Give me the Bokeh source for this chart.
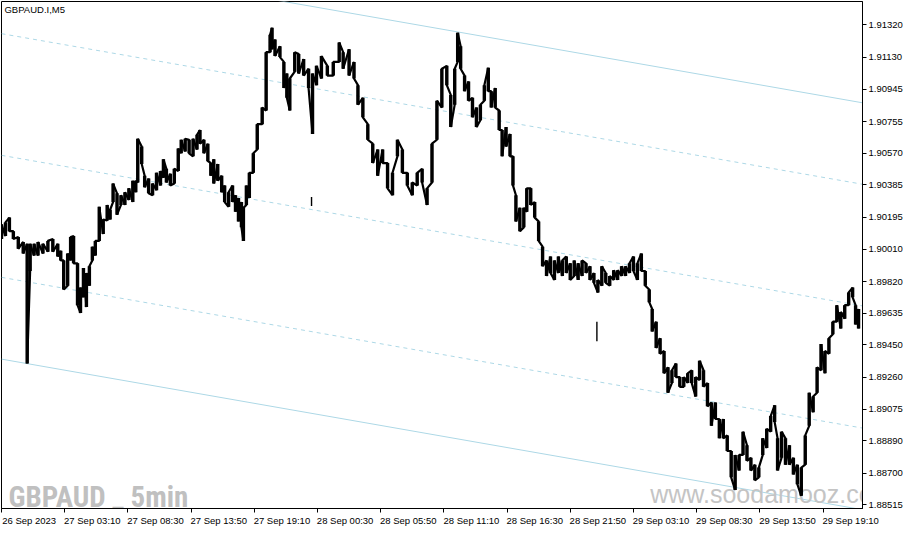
from bokeh.plotting import figure
from bokeh.models import Range1d, FixedTicker, PrintfTickFormatter, Label
from bokeh.embed import file_html
from bokeh.resources import INLINE
from bokeh.core.properties import value

symbol_title = "GBPAUD.I,M5"
watermark_text = "GBPAUD _ 5min"
site_text = "www.soodamooz.com"

# bar index (5-minute bars counted from the first visible bar)
bar = [0, 4, 8, 12, 17, 22, 26, 29, 33, 37,
       42, 47, 52, 57, 60, 63, 67, 70, 73, 77,
       80, 83, 86, 89, 92, 95, 99, 103, 107, 110,
       113, 117, 121, 125, 129, 133, 136, 138, 142, 145,
       149, 153, 157, 161, 164, 167, 171, 175, 179, 182,
       186, 190, 194, 198, 201, 205, 209, 212, 215, 219,
       223, 226, 230, 234, 237, 240, 243, 245, 248, 251,
       255, 259, 264, 268, 272, 274, 277, 282, 286, 289,
       292, 297, 301, 306, 311, 315, 319, 324, 330, 336,
       342, 346, 352, 357, 361, 366, 371, 376, 381, 386,
       391, 396, 401, 406, 411, 416, 421, 426, 431, 436,
       441, 446, 451, 455, 459, 462, 465, 469, 473, 477,
       481, 485, 489, 493, 496, 500, 504, 507, 511, 515,
       518, 521, 525, 529, 532, 536, 540, 544, 548, 552,
       556, 560, 564, 568, 572, 576, 580, 584, 588, 592,
       596, 600, 604, 608, 612, 616, 620, 624, 628, 632,
       636, 640, 644, 648, 652, 656, 659, 663, 667, 671,
       675, 679, 683, 687, 691, 695, 699, 703, 707, 711,
       715, 719, 723, 727, 731, 735, 739, 743, 747, 751,
       755, 759, 763, 767, 771, 775, 779, 783, 786, 790,
       794, 798, 802, 806, 810, 814, 818, 822, 826, 830,
       834, 838, 842, 846, 850, 854, 858, 862, 865, 868]

high = [1.90154, 1.90166, 1.90194, 1.90115, 1.90081, 1.90052, 1.90041, 1.90041, 1.90041, 1.90052,
        1.90041, 1.90058, 1.90069, 1.90041, 1.90001, 1.89944, 1.89984, 1.90081, 1.90086, 1.89927,
        1.89785, 1.89899, 1.89870, 1.89910, 1.90024, 1.90058, 1.90257, 1.90183, 1.90268, 1.90240,
        1.90393, 1.90336, 1.90325, 1.90342, 1.90365, 1.90410, 1.90410, 1.90655, 1.90609, 1.90439,
        1.90422, 1.90393, 1.90456, 1.90467, 1.90535, 1.90479, 1.90450, 1.90479, 1.90598, 1.90649,
        1.90655, 1.90649, 1.90655, 1.90678, 1.90706, 1.90649, 1.90626, 1.90513, 1.90535, 1.90507,
        1.90439, 1.90382, 1.90342, 1.90382, 1.90325, 1.90308, 1.90285, 1.90251, 1.90382, 1.90456,
        1.90570, 1.90740, 1.90837, 1.91161, 1.91263, 1.91303, 1.91235, 1.91195, 1.91104, 1.91036,
        1.91007, 1.91161, 1.91150, 1.91121, 1.91064, 1.91036, 1.91081, 1.91138, 1.91081, 1.91104,
        1.91218, 1.91161, 1.91178, 1.91104, 1.90968, 1.90894, 1.90740, 1.90626, 1.90592, 1.90592,
        1.90513, 1.90456, 1.90649, 1.90592, 1.90456, 1.90399, 1.90456, 1.90479, 1.90365, 1.90626,
        1.90877, 1.91064, 1.91081, 1.90911, 1.91064, 1.91275, 1.91195, 1.91024, 1.90990, 1.90894,
        1.90837, 1.90854, 1.90968, 1.91070, 1.90933, 1.90951, 1.90820, 1.90706, 1.90723, 1.90683,
        1.90552, 1.90325, 1.90251, 1.90251, 1.90365, 1.90365, 1.90285, 1.90172, 1.90024, 1.89944,
        1.89967, 1.89944, 1.89967, 1.89944, 1.89967, 1.89927, 1.89944, 1.89927, 1.89944, 1.89927,
        1.89910, 1.89870, 1.89830, 1.89910, 1.89870, 1.89853, 1.89887, 1.89887, 1.89910, 1.89910,
        1.89927, 1.89967, 1.89927, 1.89984, 1.89882, 1.89774, 1.89660, 1.89586, 1.89489, 1.89415,
        1.89319, 1.89302, 1.89341, 1.89262, 1.89262, 1.89284, 1.89302, 1.89262, 1.89358, 1.89302,
        1.89228, 1.89114, 1.89114, 1.89017, 1.89017, 1.88921, 1.88830, 1.88807, 1.88807, 1.88943,
        1.88864, 1.88790, 1.88750, 1.88733, 1.88904, 1.88960, 1.89034, 1.89097, 1.88904, 1.88943,
        1.88904, 1.88864, 1.88790, 1.88750, 1.88733, 1.88921, 1.89171, 1.89148, 1.89319, 1.89455,
        1.89415, 1.89489, 1.89586, 1.89682, 1.89643, 1.89682, 1.89756, 1.89785, 1.89682, 1.89660]

low = [1.90069, 1.90086, 1.90115, 1.90069, 1.90012, 1.89984, 1.89341, 1.89882, 1.89972, 1.89972,
       1.89984, 1.89995, 1.89995, 1.89967, 1.89944, 1.89774, 1.89796, 1.89944, 1.89927, 1.89682,
       1.89637, 1.89728, 1.89671, 1.89796, 1.89944, 1.89972, 1.90058, 1.90098, 1.90177, 1.90183,
       1.90285, 1.90211, 1.90268, 1.90268, 1.90297, 1.90285, 1.90342, 1.90399, 1.90507, 1.90371,
       1.90336, 1.90325, 1.90354, 1.90382, 1.90427, 1.90399, 1.90382, 1.90393, 1.90467, 1.90570,
       1.90581, 1.90570, 1.90552, 1.90592, 1.90626, 1.90570, 1.90524, 1.90439, 1.90393, 1.90410,
       1.90342, 1.90285, 1.90257, 1.90285, 1.90228, 1.90172, 1.90137, 1.90058, 1.90268, 1.90308,
       1.90456, 1.90592, 1.90740, 1.90820, 1.91161, 1.91178, 1.91138, 1.91132, 1.90951, 1.90894,
       1.90820, 1.91047, 1.91036, 1.91024, 1.90951, 1.90683, 1.90968, 1.91007, 1.91024, 1.91024,
       1.91104, 1.91064, 1.91024, 1.91007, 1.90854, 1.90780, 1.90649, 1.90513, 1.90439, 1.90513,
       1.90365, 1.90325, 1.90552, 1.90456, 1.90382, 1.90325, 1.90382, 1.90399, 1.90268, 1.90399,
       1.90649, 1.90837, 1.90968, 1.90723, 1.90854, 1.91104, 1.91064, 1.90933, 1.90877, 1.90780,
       1.90723, 1.90763, 1.90877, 1.90933, 1.90837, 1.90837, 1.90706, 1.90552, 1.90609, 1.90552,
       1.90382, 1.90172, 1.90115, 1.90137, 1.90228, 1.90268, 1.90194, 1.90058, 1.89910, 1.89853,
       1.89870, 1.89830, 1.89870, 1.89853, 1.89870, 1.89830, 1.89853, 1.89830, 1.89853, 1.89870,
       1.89830, 1.89813, 1.89756, 1.89796, 1.89813, 1.89796, 1.89830, 1.89830, 1.89853, 1.89853,
       1.89870, 1.89882, 1.89830, 1.89882, 1.89796, 1.89700, 1.89529, 1.89432, 1.89398, 1.89284,
       1.89171, 1.89228, 1.89262, 1.89205, 1.89205, 1.89228, 1.89228, 1.89148, 1.89245, 1.89205,
       1.89091, 1.88977, 1.89017, 1.88904, 1.88904, 1.88830, 1.88676, 1.88602, 1.88716, 1.88807,
       1.88773, 1.88716, 1.88659, 1.88676, 1.88807, 1.88847, 1.88943, 1.89000, 1.88716, 1.88790,
       1.88750, 1.88750, 1.88693, 1.88636, 1.88568, 1.88750, 1.88977, 1.89057, 1.89171, 1.89302,
       1.89284, 1.89398, 1.89512, 1.89586, 1.89546, 1.89603, 1.89682, 1.89728, 1.89569, 1.89546]

# isolated stray ticks
stray_bar = [314, 603]
stray_high = [1.90314, 1.89586]
stray_low = [1.90262, 1.89472]

# time axis
time_tick_bars = [0, 64, 128, 192, 256, 320, 384, 448, 512, 576, 640, 704, 768, 832]
time_tick_labels = ["26 Sep 2023", "27 Sep 03:10", "27 Sep 08:30", "27 Sep 13:50",
                    "27 Sep 19:10", "28 Sep 00:30", "28 Sep 05:50", "28 Sep 11:10",
                    "28 Sep 16:30", "28 Sep 21:50", "29 Sep 03:10", "29 Sep 08:30",
                    "29 Sep 13:50", "29 Sep 19:10"]
price_ticks = [1.88515, 1.88700, 1.88890, 1.89075, 1.89260, 1.89450, 1.89635, 1.89820,
               1.90010, 1.90195, 1.90385, 1.90570, 1.90755, 1.90945, 1.91130, 1.91320]

# channel lines (price at first and last bar)
channel_bars = [0, 872]
channel_solid_start = [1.91746, 1.89367]
channel_solid_end = [1.90865, 1.88487]
channel_dash_start = [1.91269, 1.90558, 1.89845]
channel_dash_end = [1.90389, 1.89678, 1.88964]

assert len(bar) == len(high) == len(low)

p = figure(width=905, height=528, output_backend="svg", toolbar_location=None,
           y_axis_location="right",
           x_range=Range1d(0, 872), y_range=Range1d(1.88494, 1.91457),
           min_border_left=1, min_border_top=1, min_border_right=0, min_border_bottom=0)
p.background_fill_color = "white"
p.border_fill_color = "white"
p.outline_line_color = "black"
p.outline_line_width = 1
p.xgrid.visible = False
p.ygrid.visible = False

# channel
for s, e in zip(channel_solid_start, channel_solid_end):
    p.line(channel_bars, [s, e], line_color="#add8e6", line_width=1)
for s, e in zip(channel_dash_start, channel_dash_end):
    p.line(channel_bars, [s, e], line_color="#add8e6", line_width=1, line_dash="4 4")

# watermarks
p.text(x=[7], y=[1.88562], text=[watermark_text], text_color="#c0c0c0",
       text_font=value("Roboto Condensed, Roboto"),
       text_font_style="bold", text_font_size="29px", text_baseline="alphabetic")
p.text(x=[657], y=[1.88579], text=[site_text], text_color="#c4c4c4",
       text_font=value("Liberation Sans"), text_font_size="25px", text_baseline="alphabetic")

# price trace: vertical high-low strokes joined into one path
xs, ys = [], []
n = len(bar)
for i in range(n):
    pm = (high[max(i - 1, 0)] + low[max(i - 1, 0)]) / 2
    nm = (high[min(i + 1, n - 1)] + low[min(i + 1, n - 1)]) / 2
    xs += [bar[i], bar[i]]
    ys += [low[i], high[i]] if nm >= pm else [high[i], low[i]]
p.line(xs, ys, line_color="black", line_width=2.2)
p.segment(x0=bar, y0=low, x1=bar, y1=high, line_color="black", line_width=3.4)
p.segment(x0=stray_bar, y0=stray_low, x1=stray_bar, y1=stray_high, line_color="black", line_width=1.4)

# axes
shift = 28
xa = p.xaxis[0]
xa.ticker = FixedTicker(ticks=[b + shift for b in time_tick_bars], minor_ticks=time_tick_bars)
xa.major_label_overrides = {b + shift: t for b, t in zip(time_tick_bars, time_tick_labels)}
xa.major_tick_out = 0
xa.major_tick_in = 0
xa.minor_tick_out = 4
xa.minor_tick_in = 0
xa.minor_tick_line_color = "black"
xa.axis_line_color = "black"
xa.major_label_standoff = 2
xa.major_label_text_font = "Liberation Sans"
xa.major_label_text_font_size = "9.5px"
xa.major_label_text_color = "black"

ya = p.yaxis[0]
ya.ticker = FixedTicker(ticks=price_ticks)
ya.formatter = PrintfTickFormatter(format="%.5f")
ya.major_tick_out = 4
ya.major_tick_in = 0
ya.minor_tick_line_color = None
ya.axis_line_color = "black"
ya.major_tick_line_color = "black"
ya.major_label_standoff = 2
ya.major_label_text_font = "Liberation Sans"
ya.major_label_text_font_size = "9.5px"
ya.major_label_text_color = "black"

p.add_layout(Label(x=3, y=1.91440, text=symbol_title, text_baseline="top",
                   text_font="Liberation Sans", text_font_size="9.5px", text_color="black"))

open("out.html", "w").write(file_html(p, INLINE))
